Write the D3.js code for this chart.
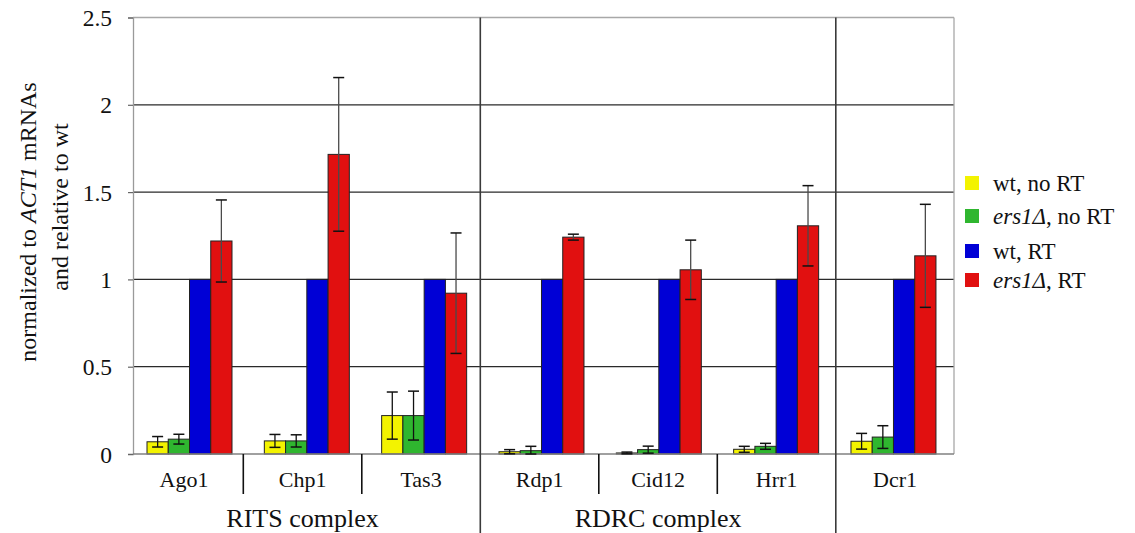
<!DOCTYPE html>
<html>
<head>
<meta charset="utf-8">
<script src="https://cdn.jsdelivr.net/npm/d3@7/dist/d3.min.js"></script>
<style>
html,body{margin:0;padding:0;background:#fff;}
svg{display:block;}
text{font-family:"Liberation Serif","Times New Roman",serif;fill:#111;}
</style>
</head>
<body>
<svg id="chart" width="1135" height="533"></svg>
<script>
// ---- data ----
const categories = ["Ago1","Chp1","Tas3","Rdp1","Cid12","Hrr1","Dcr1"];
const groupNames = ["RITS complex","RDRC complex"];
const groupSpans = [[0,2],[3,5]];            // category index ranges for group labels
const bigSeparators = ["Rdp1","Dcr1"];        // full-height separators before these categories
const seriesNames = ["wt, no RT","ers1Δ, no RT","wt, RT","ers1Δ, RT"];
const wtNoRT      = [0.070,0.075,0.220,0.013,0.006,0.027,0.073];
const wtNoRTErr   = [0.030,0.037,0.135,0.012,0.005,0.017,0.045];
const ersNoRT     = [0.085,0.075,0.220,0.019,0.025,0.044,0.097];
const ersNoRTErr  = [0.028,0.035,0.140,0.025,0.020,0.017,0.065];
const wtRT        = [1,1,1,1,1,1,1];
const ersRT       = [1.220,1.716,0.921,1.242,1.055,1.307,1.135];
const ersRTErr    = [0.235,0.440,0.345,0.017,0.170,0.230,0.295];
const yTicks = [0,0.5,1,1.5,2,2.5];
const yTickLabels = ["0","0.5","1","1.5","2","2.5"];

// ---- styles / layout ----
const colors = ["#f3f300","#2fb62f","#0000d6","#e11010"];
const series = [
  {name:seriesNames[0], values:wtNoRT,  err:wtNoRTErr},
  {name:seriesNames[1], values:ersNoRT, err:ersNoRTErr},
  {name:seriesNames[2], values:wtRT,    err:null},
  {name:seriesNames[3], values:ersRT,   err:ersRTErr}
];

const svg = d3.select("#chart");
svg.append("rect").attr("width",1135).attr("height",533).attr("fill","#fff");

const plotLeft = 133, plotRight = 954, plotTop = 17.5, plotBottom = 454;
const y = d3.scaleLinear().domain([0,2.5]).range([plotBottom, plotTop]);
const xSep = d3.scaleBand().domain(categories).range([124.8, 954.3]);   // category cells (separators / labels)
const x0 = d3.scaleBand().domain(categories).range([133.7, 955]);       // bar groups
const groupOffset = 13.3;
const x1 = d3.scaleBand().domain(d3.range(series.length)).range([0, 85]);

// gridlines
svg.append("g").selectAll("line").data(yTicks.filter(t => t > 0 && t < 2.5)).join("line")
  .attr("x1", plotLeft).attr("x2", plotRight)
  .attr("y1", d => y(d)).attr("y2", d => y(d))
  .attr("stroke", "#2a2a2a").attr("stroke-width", 1.2);
// top border
svg.append("line").attr("x1", plotLeft).attr("x2", plotRight)
  .attr("y1", y(2.5)).attr("y2", y(2.5)).attr("stroke", "#a8a8a8").attr("stroke-width", 1.3);
// right border
svg.append("line").attr("x1", plotRight).attr("x2", plotRight)
  .attr("y1", y(2.5)).attr("y2", y(0)).attr("stroke", "#a8a8a8").attr("stroke-width", 1.3);

// y axis
const yAxis = d3.axisLeft(y).tickValues(yTicks).tickSize(5).tickFormat((d,i) => yTickLabels[i]);
const gy = svg.append("g").attr("transform", `translate(${plotLeft},0)`).call(yAxis);
gy.select(".domain").attr("stroke", "#9a9a9a").attr("stroke-width", 1.3);
gy.selectAll(".tick line").attr("stroke", "#666").attr("stroke-width", 1.2);
gy.selectAll(".tick text").attr("x", -21).attr("dy", "0.34em")
  .style("font-size", "23.5px").style("font-family", "'Liberation Serif',serif").attr("fill", "#111");

// bars
const bars = svg.append("g");
series.forEach((s, si) => {
  bars.selectAll(null).data(categories).join("rect")
    .attr("x", c => x0(c) + groupOffset + x1(si))
    .attr("width", x1.bandwidth())
    .attr("y", (c, i) => y(s.values[i]))
    .attr("height", (c, i) => y(0) - y(s.values[i]))
    .attr("fill", colors[si])
    .attr("stroke", "#222").attr("stroke-width", 1);
});

// baseline
svg.append("line").attr("x1", plotLeft).attr("x2", plotRight)
  .attr("y1", y(0)).attr("y2", y(0)).attr("stroke", "#808080").attr("stroke-width", 1.3);

// error bars
const errG = svg.append("g");
series.forEach((s, si) => {
  if (!s.err) return;
  const cx = c => x0(c) + groupOffset + x1(si) + x1.bandwidth() / 2;
  const stemColor = si === 3 ? "#4a4a4a" : "#111";
  errG.selectAll(null).data(categories).join("line")
    .attr("x1", cx).attr("x2", cx)
    .attr("y1", (c, i) => y(s.values[i] + s.err[i]))
    .attr("y2", (c, i) => y(Math.max(0, s.values[i] - s.err[i])))
    .attr("stroke", stemColor).attr("stroke-width", 1.3);
  ["hi","lo"].forEach(k => {
    errG.selectAll(null).data(categories).join("line")
      .attr("x1", c => cx(c) - 5.5).attr("x2", c => cx(c) + 5.5)
      .attr("y1", (c, i) => y(k === "hi" ? s.values[i] + s.err[i] : Math.max(0, s.values[i] - s.err[i])))
      .attr("y2", (c, i) => y(k === "hi" ? s.values[i] + s.err[i] : Math.max(0, s.values[i] - s.err[i])))
      .attr("stroke", "#111").attr("stroke-width", 1.5);
  });
});

// category separators
const sepCats = categories.slice(1);
svg.append("g").selectAll("line").data(sepCats).join("line")
  .attr("x1", c => xSep(c)).attr("x2", c => xSep(c))
  .attr("y1", c => bigSeparators.includes(c) ? y(2.5) : y(0))
  .attr("y2", c => bigSeparators.includes(c) ? 533 : 494)
  .attr("stroke", c => bigSeparators.includes(c) ? "#3a3a3a" : "#111")
  .attr("stroke-width", 1.6);

// category labels
svg.append("g").selectAll("text").data(categories).join("text")
  .attr("x", c => xSep(c) + xSep.bandwidth() / 2)
  .attr("y", 487)
  .attr("text-anchor", "middle")
  .style("font-size", "22px")
  .text(c => c);

// group labels
svg.append("g").selectAll("text").data(groupNames).join("text")
  .attr("x", (g, i) => (xSep(categories[groupSpans[i][0]]) + xSep(categories[groupSpans[i][1]]) + xSep.bandwidth()) / 2)
  .attr("y", 527)
  .attr("text-anchor", "middle")
  .style("font-size", "26px")
  .text(g => g);

// y axis title
const t1 = svg.append("text").attr("transform", "translate(35.5,222) rotate(-90)")
  .attr("text-anchor", "middle").style("font-size", "24px");
t1.append("tspan").text("normalized to ");
t1.append("tspan").style("font-style", "italic").text("ACT1");
t1.append("tspan").text(" mRNAs");
svg.append("text").attr("transform", "translate(68,207) rotate(-90)")
  .attr("text-anchor", "middle").style("font-size", "24px")
  .text("and relative to wt");

// legend
const legendRows = [183, 216, 251, 280];
const lg = svg.append("g");
series.forEach((s, si) => {
  lg.append("rect").attr("x", 965).attr("y", legendRows[si] - 7).attr("width", 14).attr("height", 14)
    .attr("fill", colors[si]);
  const t = lg.append("text").attr("x", 993).attr("y", legendRows[si]).attr("dy", "0.35em")
    .style("font-size", "23px");
  const m = s.name.match(/^(ers1Δ)(.*)$/);
  if (m) {
    t.append("tspan").style("font-style", "italic").text(m[1]);
    t.append("tspan").text(m[2]);
  } else {
    t.text(s.name);
  }
});
</script>
</body>
</html>
